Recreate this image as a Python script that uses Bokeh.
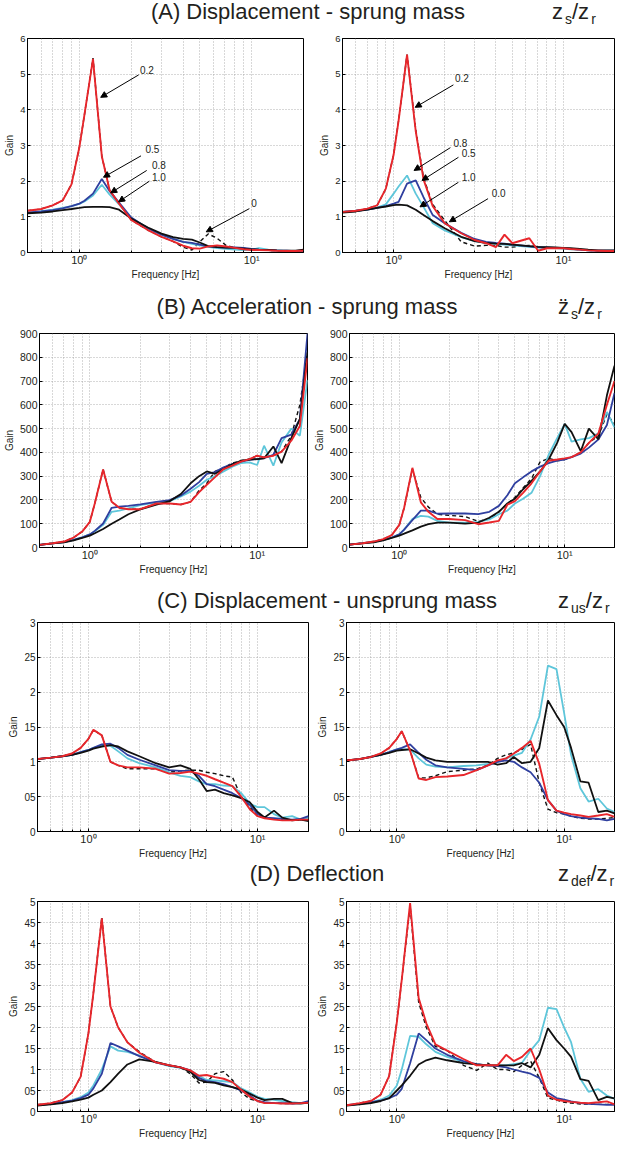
from bokeh.plotting import figure
from bokeh.layouts import column, row
from bokeh.models import Range1d, FixedTicker, Div, Arrow, NormalHead, ColumnDataSource
from bokeh.embed import file_html
from bokeh.resources import INLINE
from bokeh.core.properties import value

FONT = "Liberation Sans"

FREQ = [0.5, 0.6, 0.7, 0.8, 0.9, 1.0, 1.07, 1.2, 1.35, 1.5, 1.7, 2.0, 2.5, 3.0, 3.5,
        4.0, 4.5, 5.0, 5.6, 6.3, 7.1, 8.0, 9.0, 10.0, 11.0, 12.5, 14.0, 16.0, 18.0, 20.0]

# (A) Displacement - sprung mass, left
A_L_02 = [1.17,1.22,1.32,1.46,1.91,2.95,3.86,5.43,2.7,1.74,1.37,0.91,0.63,0.44,0.31,0.19,0.12,0.11,0.17,0.2,0.17,0.13,0.09,0.07,0.07,0.06,0.05,0.04,0.04,0.05]
A_L_05 = [1.12,1.15,1.19,1.24,1.3,1.37,1.45,1.65,2.06,1.72,1.4,0.98,0.68,0.5,0.38,0.3,0.27,0.22,0.17,0.15,0.14,0.14,0.13,0.1,0.08,0.07,0.06,0.05,0.04,0.05]
A_L_08 = [1.12,1.16,1.2,1.25,1.3,1.36,1.43,1.6,1.9,1.62,1.35,0.97,0.68,0.5,0.38,0.3,0.24,0.2,0.16,0.12,0.1,0.08,0.07,0.08,0.12,0.08,0.06,0.04,0.03,0.03]
A_L_10 = [1.1,1.12,1.15,1.19,1.22,1.25,1.27,1.28,1.28,1.27,1.2,0.95,0.7,0.53,0.43,0.38,0.36,0.28,0.18,0.15,0.14,0.13,0.11,0.09,0.08,0.07,0.06,0.05,0.05,0.08]
A_L_00 = [1.17,1.22,1.32,1.46,1.91,2.95,3.86,5.45,2.7,1.74,1.37,0.91,0.63,0.44,0.31,0.15,0.07,0.3,0.52,0.4,0.2,0.13,0.09,0.07,0.07,0.06,0.05,0.04,0.04,0.05]
# (A) right
A_R_02 = [1.14,1.17,1.23,1.32,1.79,2.74,3.7,5.55,3.4,2.05,1.3,0.82,0.54,0.35,0.26,0.15,0.5,0.26,0.33,0.4,0.05,0.12,0.12,0.12,0.1,0.08,0.06,0.05,0.04,0.04]
A_R_05 = [1.14,1.17,1.2,1.25,1.3,1.37,1.42,1.93,2.02,1.55,1.05,0.82,0.55,0.38,0.3,0.27,0.25,0.22,0.2,0.17,0.15,0.14,0.13,0.12,0.1,0.08,0.06,0.05,0.05,0.05]
A_R_08 = [1.14,1.17,1.2,1.26,1.35,1.65,1.85,2.16,1.65,1.28,0.82,0.62,0.43,0.32,0.26,0.24,0.22,0.2,0.18,0.16,0.14,0.13,0.12,0.11,0.09,0.08,0.06,0.05,0.04,0.04]
A_R_10 = [1.12,1.15,1.2,1.25,1.29,1.33,1.34,1.32,1.2,1.05,0.88,0.68,0.44,0.32,0.27,0.25,0.24,0.22,0.2,0.18,0.16,0.15,0.14,0.13,0.12,0.1,0.08,0.06,0.06,0.06]
A_R_00 = [1.14,1.17,1.23,1.32,1.79,2.74,3.7,5.55,3.45,2.1,1.35,0.9,0.3,0.18,0.2,0.2,0.15,0.15,0.18,0.2,0.15,0.12,0.12,0.12,0.1,0.08,0.06,0.05,0.04,0.04]

# (B) Acceleration - sprung mass
B_L_02 = [11,18,25,42,67,108,185,328,192,167,161,161,185,185,181,192,233,264,296,330,344,361,372,386,379,386,403,449,511,796]
B_L_05 = [11,17,23,32,43,55,70,101,167,172,175,181,192,199,219,247,275,310,317,337,351,361,369,372,376,390,460,475,540,900]
B_L_08 = [11,17,23,32,43,55,68,95,150,155,165,178,190,195,215,235,260,285,300,320,340,355,358,347,428,344,442,500,470,705]
B_L_10 = [11,17,22,30,40,50,60,78,100,118,140,160,180,195,225,270,300,320,310,330,350,365,370,372,375,425,355,460,540,820]
B_L_00 = [11,18,25,42,67,108,185,328,192,167,161,161,185,185,181,192,240,270,320,335,355,365,372,386,379,386,403,470,600,820]
B_R_02 = [12,18,25,35,52,95,167,335,190,150,120,120,115,98,105,112,180,195,230,270,320,365,370,375,380,400,440,480,600,700]
B_R_05 = [12,18,24,32,42,55,75,115,155,155,142,143,143,140,150,175,220,270,295,320,340,355,365,370,380,395,420,455,515,650]
B_R_08 = [12,18,24,32,42,55,75,120,133,130,112,105,105,108,118,140,155,185,205,230,300,390,460,520,445,455,460,480,570,505]
B_R_10 = [12,17,22,30,40,50,58,72,88,98,105,105,100,105,125,150,185,205,245,280,320,370,440,520,485,405,500,455,640,765]
B_R_00 = [12,18,25,35,52,95,167,330,210,170,140,135,130,110,120,150,185,210,250,290,360,375,365,370,380,400,440,470,560,520]

# (C) Displacement - unsprung mass
C_L_02 = [1.04,1.06,1.08,1.12,1.2,1.33,1.46,1.38,1.0,0.95,0.92,0.92,0.9,0.83,0.84,0.86,0.83,0.8,0.75,0.7,0.65,0.5,0.32,0.22,0.19,0.17,0.16,0.16,0.17,0.17]
C_L_05 = [1.04,1.06,1.08,1.1,1.14,1.17,1.2,1.25,1.26,1.2,1.1,1.03,0.95,0.88,0.87,0.87,0.8,0.68,0.65,0.6,0.55,0.48,0.38,0.25,0.2,0.19,0.18,0.17,0.18,0.22]
C_L_08 = [1.04,1.06,1.08,1.1,1.14,1.17,1.2,1.23,1.23,1.15,1.05,0.98,0.92,0.85,0.8,0.78,0.72,0.68,0.68,0.66,0.65,0.55,0.4,0.35,0.35,0.25,0.2,0.22,0.17,0.2]
C_L_10 = [1.04,1.06,1.08,1.1,1.13,1.16,1.19,1.22,1.24,1.22,1.15,1.08,0.98,0.92,0.95,0.9,0.75,0.58,0.6,0.55,0.52,0.48,0.42,0.28,0.2,0.3,0.2,0.16,0.17,0.15]
C_L_00 = [1.04,1.06,1.08,1.12,1.2,1.33,1.46,1.38,1.0,0.95,0.9,0.9,0.9,0.85,0.87,0.88,0.88,0.85,0.83,0.8,0.78,0.5,0.35,0.22,0.2,0.18,0.17,0.16,0.16,0.17]
C_R_02 = [1.02,1.04,1.07,1.12,1.2,1.33,1.44,1.16,0.76,0.74,0.78,0.79,0.81,0.88,0.95,1.02,1.05,1.12,1.2,1.3,0.97,0.45,0.3,0.27,0.25,0.23,0.21,0.23,0.25,0.21]
C_R_05 = [1.02,1.04,1.07,1.1,1.14,1.18,1.2,1.25,1.13,1.03,0.95,0.92,0.9,0.88,0.95,1.0,1.02,1.0,0.92,0.85,0.7,0.45,0.3,0.25,0.22,0.2,0.19,0.18,0.16,0.18]
C_R_08 = [1.02,1.04,1.07,1.1,1.14,1.18,1.18,1.18,1.05,0.96,0.93,0.92,0.94,0.95,0.97,1.0,1.05,1.09,1.13,1.32,1.65,2.38,2.33,1.7,1.1,0.62,0.43,0.47,0.33,0.28]
C_R_10 = [1.02,1.04,1.07,1.1,1.13,1.16,1.17,1.18,1.12,1.06,1.02,1.0,1.0,1.0,1.0,0.96,0.98,1.07,0.98,1.0,1.2,1.88,1.67,1.5,1.2,0.72,0.7,0.28,0.3,0.26]
C_R_00 = [1.02,1.04,1.07,1.12,1.2,1.33,1.44,1.16,0.77,0.77,0.8,0.86,0.88,0.9,0.95,1.05,1.1,1.13,1.18,1.25,0.7,0.32,0.27,0.25,0.22,0.19,0.18,0.18,0.19,0.2]

# (D) Deflection
D_L_02 = [0.16,0.2,0.27,0.45,0.83,1.86,2.82,4.6,2.5,2.0,1.65,1.4,1.17,1.1,1.05,0.98,0.85,0.87,0.82,0.78,0.7,0.52,0.35,0.25,0.2,0.2,0.19,0.19,0.2,0.21]
D_L_05 = [0.15,0.18,0.22,0.26,0.32,0.4,0.55,0.9,1.63,1.55,1.45,1.32,1.17,1.1,1.05,0.98,0.8,0.72,0.7,0.65,0.58,0.5,0.38,0.25,0.22,0.2,0.2,0.19,0.2,0.25]
D_L_08 = [0.15,0.18,0.22,0.27,0.34,0.45,0.62,1.0,1.55,1.45,1.42,1.33,1.17,1.08,1.04,0.98,0.85,0.75,0.74,0.72,0.7,0.55,0.45,0.35,0.3,0.28,0.25,0.22,0.2,0.2]
D_L_10 = [0.14,0.17,0.2,0.24,0.28,0.33,0.4,0.5,0.7,0.9,1.12,1.24,1.18,1.1,1.05,0.95,0.75,0.7,0.68,0.62,0.58,0.52,0.42,0.33,0.27,0.3,0.3,0.2,0.19,0.21]
D_L_00 = [0.16,0.2,0.27,0.45,0.83,1.86,2.82,4.62,2.5,2.0,1.65,1.42,1.17,1.1,1.05,0.9,0.68,0.7,0.9,0.95,0.75,0.45,0.3,0.25,0.21,0.2,0.19,0.19,0.2,0.21]
D_R_02 = [0.15,0.2,0.25,0.4,0.85,2.13,3.14,4.96,2.7,2.1,1.6,1.45,1.25,1.1,1.1,1.1,1.35,1.2,1.3,1.5,1.0,0.38,0.28,0.25,0.23,0.21,0.2,0.22,0.24,0.17]
D_R_05 = [0.15,0.18,0.22,0.26,0.32,0.4,0.54,1.15,1.86,1.7,1.5,1.35,1.2,1.13,1.1,1.08,1.05,1.0,0.95,0.9,0.8,0.45,0.32,0.28,0.24,0.2,0.18,0.17,0.16,0.16]
D_R_08 = [0.15,0.18,0.22,0.28,0.38,0.62,1.0,1.8,1.78,1.6,1.42,1.3,1.18,1.12,1.1,1.1,1.1,1.13,1.16,1.45,1.7,2.47,2.44,2.0,1.65,0.78,0.47,0.53,0.38,0.3]
D_R_10 = [0.14,0.17,0.2,0.25,0.32,0.5,0.62,0.85,1.12,1.22,1.28,1.22,1.15,1.12,1.1,1.1,1.1,1.1,1.15,1.05,1.35,1.98,1.7,1.5,1.3,0.77,0.73,0.27,0.35,0.31]
D_R_00 = [0.15,0.2,0.25,0.4,0.85,2.13,3.14,4.9,2.6,2.0,1.55,1.45,1.1,0.98,1.15,1.0,1.0,0.95,1.1,1.2,0.8,0.32,0.27,0.22,0.2,0.18,0.18,0.17,0.17,0.18]

# Annotations of panel (A)
A_L_TEXT = ["0.2", "0.5", "0.8", "1.0", "0"]
A_L_TEXT_F = [2.25, 2.42, 2.64, 2.64, 9.95]
A_L_TEXT_G = [5.12, 2.9, 2.44, 2.11, 1.39]
A_L_ARR_F0 = [2.21, 2.28, 2.46, 2.55, 9.7]
A_L_ARR_G0 = [4.98, 2.71, 2.3, 2.0, 1.23]
A_L_ARR_F1 = [1.33, 1.38, 1.52, 1.69, 5.45]
A_L_ARR_G1 = [4.35, 2.11, 1.67, 1.42, 0.58]

A_R_TEXT = ["0.2", "0.8", "0.5", "1.0", "0.0"]
A_R_TEXT_F = [2.3, 2.25, 2.52, 2.52, 3.78]
A_R_TEXT_G = [4.89, 3.08, 2.78, 2.11, 1.67]
A_R_ARR_F0 = [2.25, 2.16, 2.41, 2.41, 3.6]
A_R_ARR_G0 = [4.7, 2.94, 2.67, 1.97, 1.51]
A_R_ARR_F1 = [1.34, 1.32, 1.47, 1.43, 2.13]
A_R_ARR_G1 = [4.07, 2.3, 2.02, 1.28, 0.86]

X_MAJOR = [1, 10]
X_MINOR = [0.5, 0.6, 0.7, 0.8, 0.9, 2, 3, 4, 5, 6, 7, 8, 9, 20]
X_LABELS = {1: "10\u2070", 10: "10\u00b9"}

Y_A = [0, 1, 2, 3, 4, 5, 6]
Y_B = [0, 100, 200, 300, 400, 500, 600, 700, 800, 900]
Y_C = [0, 0.5, 1, 1.5, 2, 2.5, 3]
Y_C_LABELS = ["0", "05", "1", "15", "2", "25", "3"]
Y_D = [0, 0.5, 1, 1.5, 2, 2.5, 3, 3.5, 4, 4.5, 5]
Y_D_LABELS = ["0", "05", "1", "15", "2", "25", "3", "35", "4", "45", "5"]

RED = "#e8262b"
BLUE = "#2f3f9f"
CYAN = "#5ec6da"
BLACK = "#111111"
GRID = "#9c9c9c"


def panel(series, y_max, yticks, ylabels, w, h, bl, br, bt, bb, fs):
    p = figure(width=w, height=h, x_axis_type="log",
               x_range=Range1d(0.5, 20), y_range=Range1d(0, y_max),
               output_backend="svg", toolbar_location=None,
               min_border_left=bl, min_border_right=br,
               min_border_top=bt, min_border_bottom=bb)
    p.background_fill_color = "white"
    p.border_fill_color = "white"
    p.outline_line_color = "black"
    p.outline_line_width = 1
    p.xaxis.ticker = FixedTicker(ticks=X_MAJOR, minor_ticks=X_MINOR)
    p.xaxis.major_label_overrides = X_LABELS
    p.yaxis.ticker = FixedTicker(ticks=yticks)
    if ylabels is not None:
        p.yaxis.major_label_overrides = dict(zip(yticks, ylabels))
    p.xaxis.axis_label = "Frequency [Hz]"
    p.yaxis.axis_label = "Gain"
    for ax in (p.xaxis[0], p.yaxis[0]):
        ax.axis_line_color = "black"
        ax.major_tick_in = 3
        ax.major_tick_out = 0
        ax.minor_tick_in = 2
        ax.minor_tick_out = 0
        ax.major_tick_line_color = "black"
        ax.minor_tick_line_color = "black"
        ax.major_label_text_font = FONT
        ax.major_label_text_font_size = fs
        ax.major_label_text_color = "#231f20"
        ax.axis_label_text_font = FONT
        ax.axis_label_text_font_size = "10px"
        ax.axis_label_text_font_style = "normal"
        ax.axis_label_text_color = "#231f20"
        ax.major_label_standoff = 2
        ax.axis_label_standoff = 2
    p.xaxis.major_label_text_font_size = "11px"
    p.xaxis.major_label_standoff = 1
    p.xaxis.axis_label_standoff = 0
    p.xgrid.grid_line_color = GRID
    p.xgrid.grid_line_dash = "1 2"
    p.xgrid.grid_line_width = 0.8
    p.xgrid.minor_grid_line_color = GRID
    p.xgrid.minor_grid_line_dash = "1 2"
    p.xgrid.minor_grid_line_width = 0.8
    p.ygrid.grid_line_color = GRID
    p.ygrid.grid_line_dash = "1 2"
    p.ygrid.grid_line_width = 0.8
    s02, s05, s08, s10, s00 = series
    p.line(FREQ, s00, line_color=BLACK, line_width=1.4, line_dash="4 3")
    p.line(FREQ, s08, line_color=CYAN, line_width=1.8)
    p.line(FREQ, s05, line_color=BLUE, line_width=1.8)
    p.line(FREQ, s10, line_color=BLACK, line_width=1.8)
    p.line(FREQ, s02, line_color=RED, line_width=1.9)
    return p


def annotate(p, txt, tf, tg, f0, g0, f1, g1):
    src = ColumnDataSource(dict(x=tf, y=tg, t=txt))
    p.text("x", "y", "t", source=src, text_font=value(FONT),
           text_font_size=value("10px"), text_baseline="middle",
           text_align="left", text_color="#231f20")
    asrc = ColumnDataSource(dict(x0=f0, y0=g0, x1=f1, y1=g1))
    p.add_layout(Arrow(end=NormalHead(size=6, fill_color="black", line_color="black"),
                       x_start="x0", y_start="y0", x_end="x1", y_end="y1",
                       source=asrc, line_color="black", line_width=1))


def title_div(h, top, title, cx, math_html, mx):
    html = (
        '<div style="position:relative;width:616px;height:%dpx;'
        'font-family:\'Liberation Sans\',Arial,sans-serif;color:#231f20;">'
        '<span style="position:absolute;left:%dpx;top:%dpx;transform:translateX(-50%%);'
        'font-size:22px;line-height:24px;white-space:nowrap;">%s</span>'
        '<span style="position:absolute;left:%dpx;top:%dpx;font-size:22px;'
        'line-height:24px;white-space:nowrap;">%s</span></div>'
    ) % (h, cx, top, title, mx, top, math_html)
    return Div(text=html, width=616, height=h, margin=(0, 0, 0, 0))


SUB = '<sub style="font-size:14px;line-height:14px;vertical-align:-5px;margin-left:2px;">%s</sub>'

div_a = title_div(32, 0, "(A) Displacement - sprung mass", 308,
                  "z" + SUB % "s" + "/z" + SUB % "r", 552)
div_b = title_div(30, 1, "(B) Acceleration - sprung mass", 307,
                  "z&#776;" + SUB % "s" + "/z" + SUB % "r", 558)
div_c = title_div(30, 1, "(C) Displacement - unsprung mass", 327,
                  "z" + SUB % "us" + "/z" + SUB % "r", 558)
div_d = title_div(30, 1, "(D) Deflection", 317,
                  "z" + SUB % "def" + "/z" + SUB % "r", 558)

a_l = panel([A_L_02, A_L_05, A_L_08, A_L_10, A_L_00], 6, Y_A, None,
            310, 262, 27, 7, 6, 42, "9.5px")
a_r = panel([A_R_02, A_R_05, A_R_08, A_R_10, A_R_00], 6, Y_A, None,
            306, 262, 32, 2, 6, 42, "9.5px")
annotate(a_l, A_L_TEXT, A_L_TEXT_F, A_L_TEXT_G, A_L_ARR_F0, A_L_ARR_G0, A_L_ARR_F1, A_L_ARR_G1)
annotate(a_r, A_R_TEXT, A_R_TEXT_F, A_R_TEXT_G, A_R_ARR_F0, A_R_ARR_G0, A_R_ARR_F1, A_R_ARR_G1)

b_l = panel([B_L_02, B_L_05, B_L_08, B_L_10, B_L_00], 900, Y_B, None,
            310, 264, 32, 3, 9, 41, "10.5px")
b_r = panel([B_R_02, B_R_05, B_R_08, B_R_10, B_R_00], 900, Y_B, None,
            306, 264, 34, 2, 9, 41, "10.5px")

c_l = panel([C_L_02, C_L_05, C_L_08, C_L_10, C_L_00], 3, Y_C, Y_C_LABELS,
            312, 243, 37, 4, 4, 26, "10px")
c_r = panel([C_R_02, C_R_05, C_R_08, C_R_10, C_R_00], 3, Y_C, Y_C_LABELS,
            304, 243, 34, 2, 4, 26, "10px")

d_l = panel([D_L_02, D_L_05, D_L_08, D_L_10, D_L_00], 5, Y_D, Y_D_LABELS,
            312, 250, 37, 4, 10, 27, "10px")
d_r = panel([D_R_02, D_R_05, D_R_08, D_R_10, D_R_00], 5, Y_D, Y_D_LABELS,
            304, 250, 34, 2, 10, 27, "10px")

layout = column(div_a, row(a_l, a_r), div_b, row(b_l, b_r),
                div_c, row(c_l, c_r), div_d, row(d_l, d_r))

open("out.html", "w").write(file_html(layout, INLINE))
